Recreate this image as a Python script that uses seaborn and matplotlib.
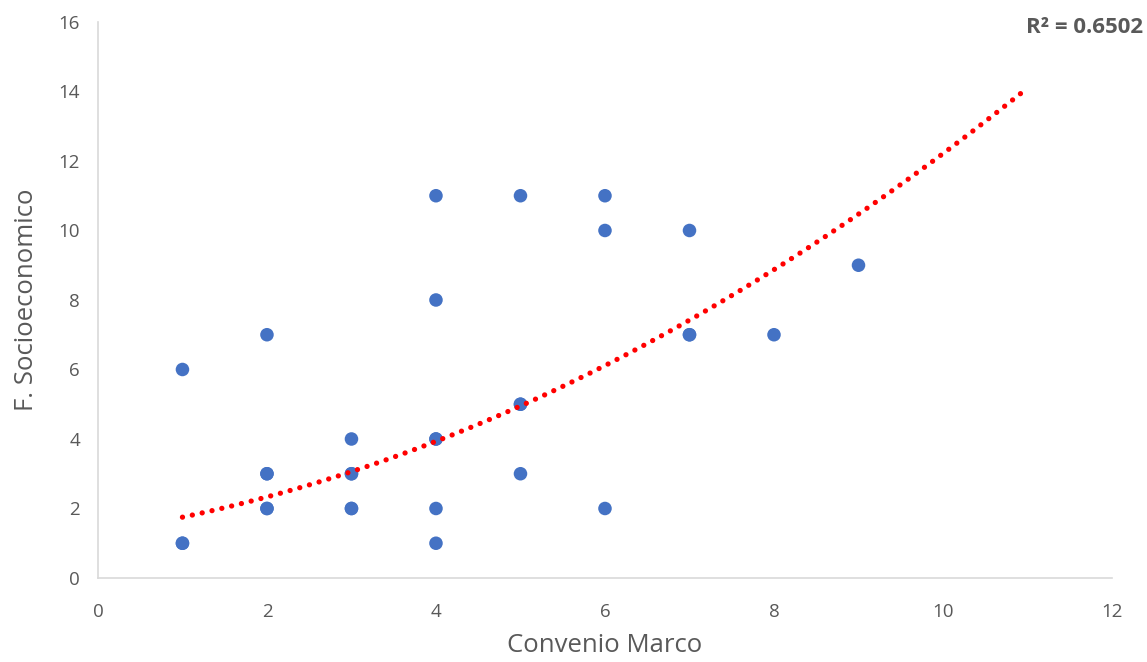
import numpy as np
import pandas as pd
import matplotlib
matplotlib.use('Agg')
import matplotlib.pyplot as plt
import seaborn as sns

sns.set_style('white')
plt.rcParams['font.family'] = ['Open Sans', 'DejaVu Sans']

# datos
convenio = [1, 1, 1, 2, 2, 2, 2, 2, 3, 3, 3, 3, 3, 4, 4, 4, 4, 4, 4, 5, 5, 5, 5, 6, 6, 6, 7, 7, 7, 8, 9]
socio = [1, 1, 6, 2, 2, 3, 3, 7, 2, 2, 3, 3, 4, 1, 2, 4, 4, 8, 11, 3, 5, 5, 11, 2, 10, 11, 7, 7, 10, 7, 9]

# linea de tendencia polinomica (orden 2)
trend_coef = [0.0725, 0.365, 1.3125]
trend_range = [1, 11]
r2_text = 'R² = 0.6502'

df = pd.DataFrame({'Convenio Marco': convenio, 'F. Socioeconomico': socio})

fig = plt.figure(figsize=(11.47, 6.62), dpi=100)
ax = fig.add_axes([0.0854, 0.1269, 0.8841, 0.8399])

sns.scatterplot(data=df, x='Convenio Marco', y='F. Socioeconomico', ax=ax,
                color='#4472C4', s=95, edgecolor='none', linewidth=0, zorder=3)

xt = np.linspace(trend_range[0], trend_range[1], 200)
ax.plot(xt, np.polyval(trend_coef, xt), color='#FF0000', lw=3.8,
        linestyle=(0, (0.01, 1.9)), dash_capstyle='round', zorder=4)

ax.set_xlim(0, 12)
ax.set_ylim(0, 16)
ax.set_xticks(range(0, 13, 2))
ax.set_yticks(range(0, 17, 2))
ax.tick_params(axis='both', length=0, labelsize=13.5, colors='#595959')
ax.tick_params(axis='x', pad=18)
ax.tick_params(axis='y', pad=13)
for s in ['top', 'right']:
    ax.spines[s].set_visible(False)
for s in ['bottom', 'left']:
    ax.spines[s].set_color('#D9D9D9')
    ax.spines[s].set_linewidth(1.2)

ax.set_xlabel('Convenio Marco', fontsize=18.5, color='#595959', labelpad=9)
ax.set_ylabel('F. Socioeconomico', fontsize=18.5, color='#595959', labelpad=14)

fig.text(0.997, 0.958, r2_text, ha='right', va='center', fontsize=16,
         fontweight='bold', color='#595959')

fig.savefig('out.png', dpi=100)
